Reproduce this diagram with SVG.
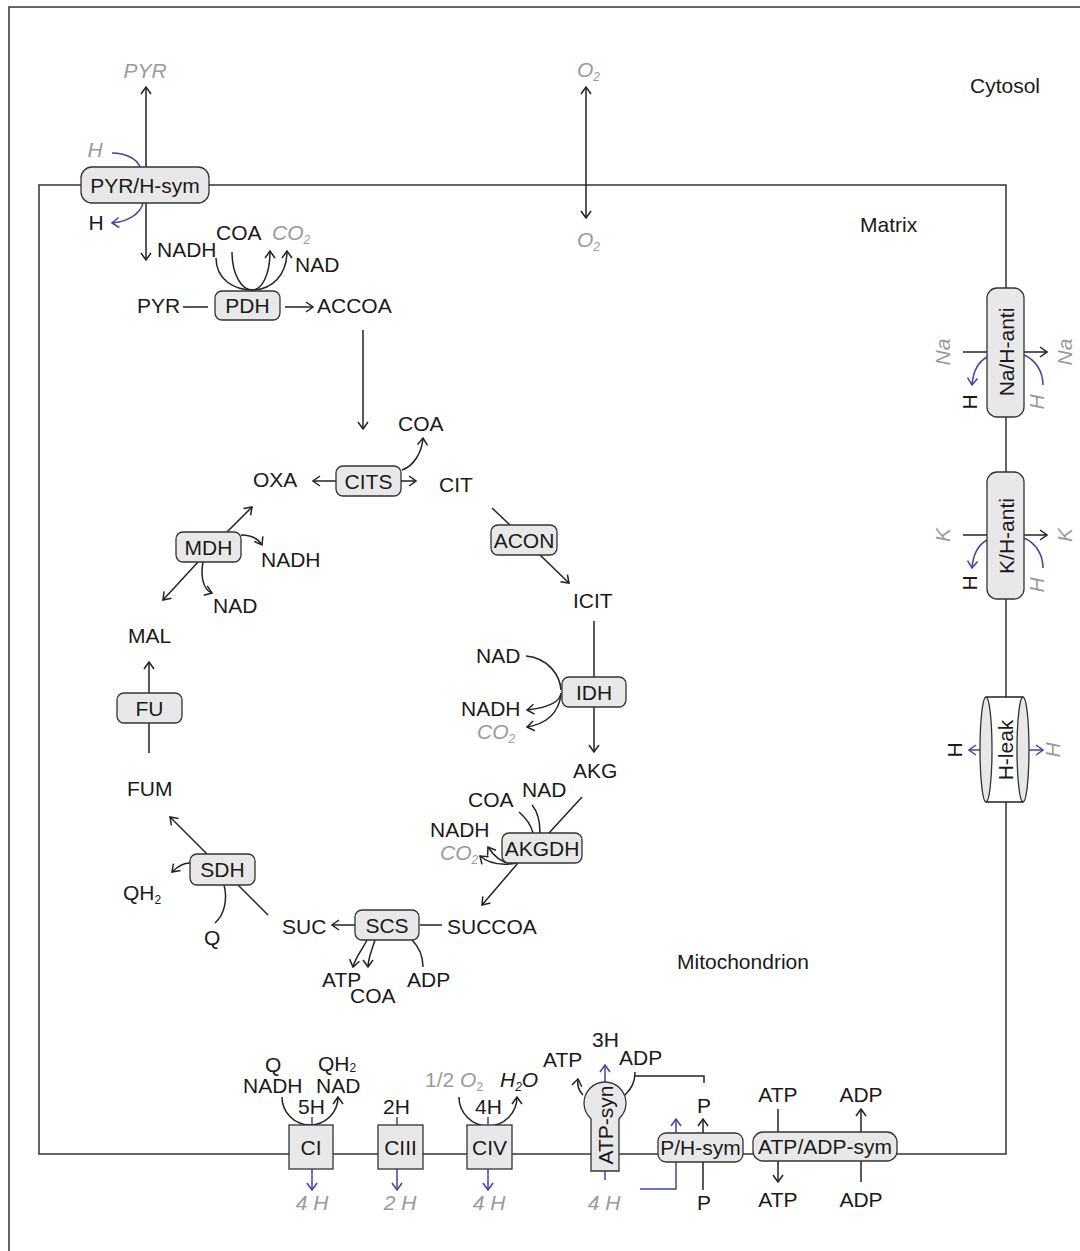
<svg xmlns="http://www.w3.org/2000/svg" width="1080" height="1251" viewBox="0 0 1080 1251">
<defs>
<style>
.t{font-family:"Liberation Sans",Arial,Helvetica,sans-serif;font-size:21px;fill:#1a1a1a}
.g{fill:#9a9a9a;font-style:italic}
.gu{fill:#9a9a9a}
.i{font-style:italic}
.m{text-anchor:middle}
.sub{font-size:12px}
.box{fill:#e8e8e8;stroke:#333;stroke-width:1.3}
.ln{fill:none;stroke:#222;stroke-width:1.5}
.ar{marker-end:url(#ah)}
.da{marker-start:url(#ah);marker-end:url(#ah)}
.bl{fill:none;stroke:#3d47a0;stroke-width:1.5}
.bar{marker-end:url(#bh)}
.mem{fill:none;stroke:#333;stroke-width:1.5}
</style>
<marker id="ah" viewBox="-9 -6 10 12" refX="0" refY="0" markerWidth="10" markerHeight="12" markerUnits="userSpaceOnUse" orient="auto-start-reverse"><path d="M-7,-5 L0,0 L-7,5" fill="none" stroke="#222" stroke-width="1.5"/></marker>
<marker id="bh" viewBox="-9 -6 10 12" refX="0" refY="0" markerWidth="10" markerHeight="12" markerUnits="userSpaceOnUse" orient="auto-start-reverse"><path d="M-7,-5 L0,0 L-7,5" fill="none" stroke="#3d47a0" stroke-width="1.5"/></marker>
</defs>
<rect width="1080" height="1251" fill="#fff"/>
<path class="mem" d="M9,1251 L9,7 L1080,7"/>
<rect id="mitochondrion" class="mem" x="39" y="185" width="967" height="969"/>

<g id="connectors">
<!-- PYR/H-sym -->
<path class="ln da" d="M146,87 L146,260"/>
<path class="bl" d="M112,153 C126,153 137,159 140,167"/>
<path class="bl bar" d="M143,203 C140,215 126,222 112,223"/>
<!-- O2 -->
<path class="ln da" d="M586,87 L586,218"/>
<!-- PDH -->
<path class="ln" d="M216,258 C216,280 235,290 252,290"/>
<path class="ln" d="M232,252 C232,275 242,290 252,290"/>
<path class="ln ar" d="M252,290 C262,290 270,275 270,251"/>
<path class="ln ar" d="M252,290 C272,290 287,275 287,251"/>
<path class="ln" d="M183,307 L208,307"/>
<path class="ln ar" d="M285,307 L313,307"/>
<path class="ln ar" d="M363,330 L363,429"/>
<!-- CITS -->
<path class="ln ar" d="M336,481 L313,481"/>
<path class="ln ar" d="M401,481 L416,481"/>
<path class="ln ar" d="M402,470 C414,466 422,452 423,438"/>
<!-- MDH -->
<path class="ln ar" d="M227,532 L252,507"/>
<path class="ln ar" d="M241,535 C252,535 258,538 262,545"/>
<path class="ln ar" d="M198,562 L163,600"/>
<path class="ln ar" d="M203,562 C200,578 204,590 212,593"/>
<!-- FU -->
<path class="ln ar" d="M149,693 L149,662"/>
<path class="ln" d="M149,723 L149,753"/>
<!-- ACON -->
<path class="ln" d="M492,508 L510,525"/>
<path class="ln ar" d="M540,555 L569,583"/>
<!-- IDH -->
<path class="ln ar" d="M594,621 L594,752"/>
<path class="ln" d="M526,656 C548,658 560,675 561,690"/>
<path class="ln ar" d="M561,693 C560,703 545,708 527,710"/>
<path class="ln ar" d="M561,695 C558,715 545,724 527,727"/>
<!-- AKGDH -->
<path class="ln" d="M582,797 L549,833"/>
<path class="ln" d="M519,812 C526,818 531,825 533,833"/>
<path class="ln" d="M532,805 C538,812 540,823 540,833"/>
<path class="ln ar" d="M518,863 L482,905"/>
<path class="ln ar" d="M517,863 C505,865 495,858 488,847"/>
<path class="ln ar" d="M517,863 C500,866 488,863 480,856"/>
<!-- SDH -->
<path class="ln ar" d="M207,854 L170,817"/>
<path class="ln ar" d="M190,863 C182,863 177,867 172,872"/>
<path class="ln" d="M224,885 C228,900 224,915 215,923"/>
<path class="ln" d="M238,885 L268,915"/>
<!-- SCS -->
<path class="ln ar" d="M355,925 L332,925"/>
<path class="ln" d="M420,925 L442,925"/>
<path class="ln ar" d="M367,940 C362,950 355,958 353,967"/>
<path class="ln ar" d="M375,940 C372,950 368,958 368,967"/>
<path class="ln" d="M412,940 C420,948 423,958 423,967"/>
<!-- CI -->
<path class="ln ar" d="M282,1097 A28,28 0 0,0 338,1097"/>
<path class="bl" d="M312,1117 L312,1125"/>
<path class="bl bar" d="M312,1169 L312,1190"/>
<!-- CIII -->
<path class="bl" d="M397,1117 L397,1125"/>
<path class="bl bar" d="M397,1169 L397,1190"/>
<!-- CIV -->
<path class="ln ar" d="M459,1097 A29,29 0 0,0 517,1097"/>
<path class="bl" d="M488,1117 L488,1125"/>
<path class="bl bar" d="M488,1169 L488,1190"/>
<!-- ATP-syn -->
<path class="bl bar" d="M605,1180 L605,1065"/>
<path class="ln ar" d="M583,1095 C578,1090 577,1085 578,1079"/>
<path class="ln" d="M625,1095 C632,1088 635,1082 635,1072"/>
<path class="ln" d="M635,1076 L704,1076 L704,1083"/>
<!-- P/H-sym -->
<path class="bl bar" d="M640,1189 L676,1189 L676,1119"/>
<path class="ln ar" d="M703,1133 L703,1119"/>
<path class="ln" d="M703,1162 L703,1190"/>
<!-- ATP/ADP-sym -->
<path class="ln" d="M778,1109 L778,1132"/>
<path class="ln ar" d="M861,1132 L861,1109"/>
<path class="ln ar" d="M778,1161 L778,1182"/>
<path class="ln" d="M861,1182 L861,1161"/>
<!-- Na/H-anti -->
<path class="ln ar" d="M963,352 L1047,352"/>
<path class="bl bar" d="M987,357 C978,362 973,372 972,385"/>
<path class="bl" d="M1024,355 C1036,360 1043,372 1043,385"/>
<!-- K/H-anti -->
<path class="ln ar" d="M963,535 L1047,535"/>
<path class="bl bar" d="M987,540 C978,545 973,555 972,568"/>
<path class="bl" d="M1024,538 C1036,543 1043,555 1043,568"/>
<!-- H-leak -->
<path class="bl bar" d="M980,750 L969,750"/>
<path class="bl bar" d="M1029,750 L1043,750"/>
</g>

<!-- enzyme / transporter nodes -->
<g id="PYR-H-sym"><rect class="box" x="81" y="167" width="128" height="36" rx="11"/><text class="t m" x="145" y="192.5">PYR/H-sym</text></g>
<g id="PDH"><rect class="box" x="215" y="291" width="65" height="29" rx="7"/><text class="t m" x="247.5" y="313">PDH</text></g>
<g id="CITS"><rect class="box" x="336" y="466" width="65" height="30" rx="7"/><text class="t m" x="368.5" y="488.5">CITS</text></g>
<g id="MDH"><rect class="box" x="176" y="532" width="65" height="30" rx="7"/><text class="t m" x="208.5" y="554.5">MDH</text></g>
<g id="FU"><rect class="box" x="117" y="693" width="65" height="30" rx="7"/><text class="t m" x="149.5" y="715.5">FU</text></g>
<g id="ACON"><rect class="box" x="491" y="525" width="66" height="30" rx="7"/><text class="t m" x="524" y="547.5">ACON</text></g>
<g id="IDH"><rect class="box" x="562" y="677" width="64" height="30" rx="7"/><text class="t m" x="594" y="699.5">IDH</text></g>
<g id="AKGDH"><rect class="box" x="502" y="833" width="80" height="30" rx="7"/><text class="t m" x="542" y="855.5">AKGDH</text></g>
<g id="SDH"><rect class="box" x="190" y="854" width="65" height="31" rx="7"/><text class="t m" x="222.5" y="877">SDH</text></g>
<g id="SCS"><rect class="box" x="355" y="910" width="64" height="30" rx="7"/><text class="t m" x="387" y="932.5">SCS</text></g>
<g id="CI"><rect class="box" x="289" y="1125" width="44" height="44"/><text class="t m" x="311" y="1154.5">CI</text></g>
<g id="CIII"><rect class="box" x="378" y="1125" width="45" height="44"/><text class="t m" x="400.5" y="1154.5">CIII</text></g>
<g id="CIV"><rect class="box" x="467" y="1125" width="45" height="44"/><text class="t m" x="489.5" y="1154.5">CIV</text></g>
<g id="ATP-syn"><path class="box" d="M591,1171 L591,1118.65 A21,21 0 1,1 619,1118.65 L619,1171 Z"/><text class="t m" transform="translate(605,1125) rotate(-90)" x="0" y="7.5">ATP-syn</text></g>
<g id="P-H-sym"><rect class="box" x="658" y="1133" width="85" height="29" rx="8"/><text class="t m" x="700.5" y="1155">P/H-sym</text></g>
<g id="ATP-ADP-sym"><rect class="box" x="753" y="1132" width="144" height="29" rx="10"/><text class="t m" x="825" y="1154">ATP/ADP-sym</text></g>
<g id="Na-H-anti"><rect class="box" x="987" y="288" width="37" height="129" rx="10"/><text class="t m" transform="translate(1006,352) rotate(-90)" x="0" y="7.5">Na/H-anti</text></g>
<g id="K-H-anti"><rect class="box" x="987" y="472" width="37" height="127" rx="10"/><text class="t m" transform="translate(1006,536) rotate(-90)" x="0" y="7.5">K/H-anti</text></g>
<g id="H-leak">
<rect x="986" y="697" width="37" height="105" fill="#fff"/>
<path class="ln" d="M986,697 L1023,697 M986,802 L1023,802" stroke="#333"/>
<ellipse class="box" cx="1023" cy="749.5" rx="6" ry="52.5"/>
<ellipse class="box" cx="986" cy="749.5" rx="6" ry="52.5"/>
<text class="t m" transform="translate(1005,750) rotate(-90)" x="0" y="7.5">H-leak</text>
</g>

<!-- compartment labels -->
<g id="labels">
<text class="t" x="970" y="93">Cytosol</text>
<text class="t" x="860" y="232">Matrix</text>
<text class="t" x="677" y="969">Mitochondrion</text>
</g>

<!-- metabolites -->
<g id="metabolites">
<text id="PYR-c" class="t g m" x="145" y="78">PYR</text>
<text id="H-c1" class="t g m" x="95" y="157">H</text>
<text id="H-m1" class="t m" x="96" y="230">H</text>
<text id="NADH-1" class="t" x="157" y="257">NADH</text>
<text id="COA-1" class="t" x="216" y="240">COA</text>
<text id="CO2-1" class="t g" x="272" y="240">CO<tspan class="sub" dy="4">2</tspan></text>
<text id="NAD-1" class="t" x="295" y="272">NAD</text>
<text id="PYR-m" class="t" x="137" y="313">PYR</text>
<text id="ACCOA" class="t" x="317" y="313">ACCOA</text>
<text id="O2-c" class="t g" x="577" y="77">O<tspan class="sub" dy="4">2</tspan></text>
<text id="O2-m" class="t g" x="577" y="247">O<tspan class="sub" dy="4">2</tspan></text>
<text id="COA-2" class="t" x="398" y="431">COA</text>
<text id="OXA" class="t" x="253" y="487">OXA</text>
<text id="CIT" class="t" x="439" y="492">CIT</text>
<text id="NADH-2" class="t" x="261" y="567">NADH</text>
<text id="NAD-2" class="t" x="213" y="613">NAD</text>
<text id="MAL" class="t" x="128" y="643">MAL</text>
<text id="FUM" class="t" x="127" y="796">FUM</text>
<text id="ICIT" class="t" x="573" y="608">ICIT</text>
<text id="NAD-3" class="t" x="476" y="663">NAD</text>
<text id="NADH-3" class="t" x="461" y="716">NADH</text>
<text id="CO2-3" class="t g" x="477" y="739">CO<tspan class="sub" dy="4">2</tspan></text>
<text id="AKG" class="t" x="573" y="778">AKG</text>
<text id="COA-4" class="t" x="468" y="807">COA</text>
<text id="NAD-4" class="t" x="522" y="797">NAD</text>
<text id="NADH-4" class="t" x="430" y="837">NADH</text>
<text id="CO2-4" class="t g" x="440" y="860">CO<tspan class="sub" dy="4">2</tspan></text>
<text id="QH2-1" class="t" x="123" y="900">QH<tspan class="sub" dy="4">2</tspan></text>
<text id="Q-1" class="t" x="204" y="945">Q</text>
<text id="SUC" class="t" x="282" y="934">SUC</text>
<text id="SUCCOA" class="t" x="447" y="934">SUCCOA</text>
<text id="ATP-1" class="t" x="322" y="987">ATP</text>
<text id="COA-5" class="t" x="350" y="1003">COA</text>
<text id="ADP-1" class="t" x="407" y="987">ADP</text>
<text id="Q-2" class="t" x="265" y="1072">Q</text>
<text id="NADH-5" class="t" x="243" y="1093">NADH</text>
<text id="QH2-2" class="t" x="318" y="1071">QH<tspan class="sub" dy="1">2</tspan></text>
<text id="NAD-5" class="t" x="316" y="1093">NAD</text>
<text id="H5" class="t" x="298" y="1114">5H</text>
<text id="H4-out1" class="t g m" x="312" y="1210">4 H</text>
<text id="H2" class="t" x="383" y="1114">2H</text>
<text id="H2-out" class="t g m" x="400" y="1210">2 H</text>
<text id="O2-half" class="t gu" x="425" y="1087">1/2 <tspan class="i">O</tspan><tspan class="sub" dy="4">2</tspan></text>
<text id="H2O" class="t i" x="500" y="1087">H<tspan class="sub" dy="4">2</tspan><tspan dy="-4">O</tspan></text>
<text id="H4" class="t" x="475" y="1114">4H</text>
<text id="H4-out2" class="t g m" x="489" y="1210">4 H</text>
<text id="H3" class="t" x="592" y="1047">3H</text>
<text id="ATP-2" class="t" x="543" y="1067">ATP</text>
<text id="ADP-2" class="t" x="619" y="1065">ADP</text>
<text id="H4-out3" class="t g m" x="604" y="1210">4 H</text>
<text id="P-m" class="t" x="697" y="1113">P</text>
<text id="P-c" class="t" x="697" y="1210">P</text>
<text id="ATP-m" class="t m" x="778" y="1102">ATP</text>
<text id="ADP-m" class="t m" x="861" y="1102">ADP</text>
<text id="ATP-c" class="t m" x="778" y="1207">ATP</text>
<text id="ADP-c" class="t m" x="861" y="1207">ADP</text>
<text id="Na-m" class="t g m" transform="translate(943,352) rotate(-90)" x="0" y="7">Na</text>
<text id="Na-c" class="t g m" transform="translate(1065,352) rotate(-90)" x="0" y="7">Na</text>
<text id="H-na-m" class="t m" transform="translate(970,402) rotate(-90)" x="0" y="7">H</text>
<text id="H-na-c" class="t g m" transform="translate(1037,402) rotate(-90)" x="0" y="7">H</text>
<text id="K-m" class="t g m" transform="translate(943,535) rotate(-90)" x="0" y="7">K</text>
<text id="K-c" class="t g m" transform="translate(1065,535) rotate(-90)" x="0" y="7">K</text>
<text id="H-k-m" class="t m" transform="translate(970,583) rotate(-90)" x="0" y="7">H</text>
<text id="H-k-c" class="t g m" transform="translate(1037,585) rotate(-90)" x="0" y="7">H</text>
<text id="H-leak-m" class="t m" transform="translate(955,750) rotate(-90)" x="0" y="7">H</text>
<text id="H-leak-c" class="t g m" transform="translate(1053,750) rotate(-90)" x="0" y="7">H</text>
</g>
</svg>
